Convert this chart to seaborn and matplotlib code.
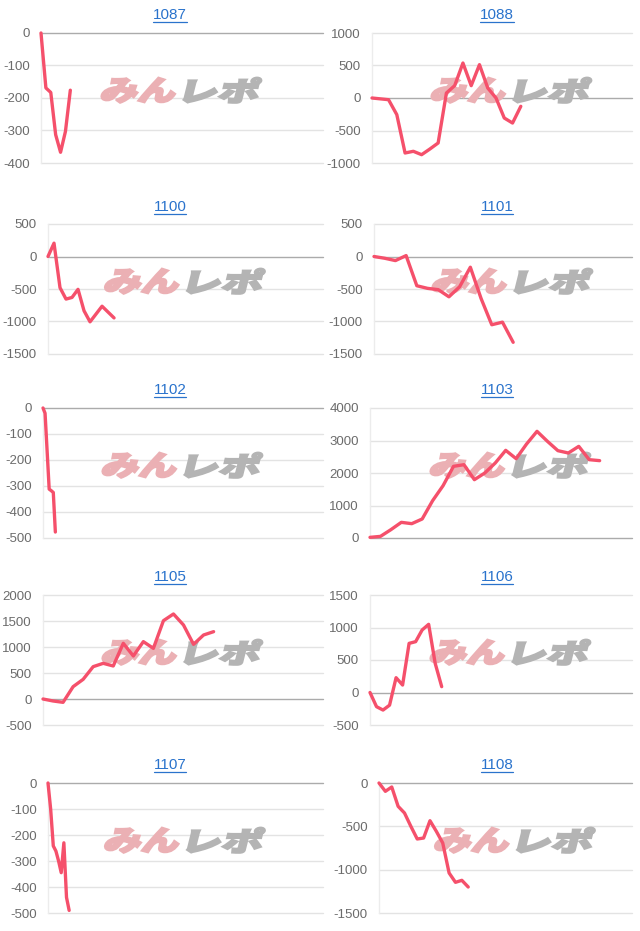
import numpy as np
import pandas as pd
import matplotlib
matplotlib.use("Agg")
import matplotlib.pyplot as plt
import matplotlib.transforms as mtransforms
import seaborn as sns
from matplotlib.textpath import TextPath
from matplotlib.patches import PathPatch
from matplotlib.font_manager import FontProperties
from matplotlib.lines import Line2D

# machine numbers, in reading order (2 columns)
machines = ["1087", "1088", "1100", "1101", "1102", "1103", "1105", "1106", "1107", "1108"]

# cumulative difference per machine
v1087 = [0, -169, -183, -313, -367, -303, -176]
v1088 = [0, -13, -26, -256, -846, -820, -872, -785, -692, 77, 190, 538, 190, 513, 154, 0, -308, -385, -128]
v1100 = [0, 205, -480, -655, -630, -505, -835, -1005, -885, -765, -855, -945]
v1101 = [0, -27, -63, 14, -450, -490, -510, -620, -465, -165, -645, -1050, -1010, -1320]
v1102 = [0, -20, -165, -312, -318, -325, -477]
v1103 = [20, 50, 256, 482, 441, 585, 1149, 1610, 2205, 2256, 1795, 2000, 2308, 2697, 2441,
         2892, 3282, 2974, 2687, 2615, 2820, 2410, 2380]
v1105 = [0, -38, -64, 237, 378, 622, 686, 635, 1071, 827, 1103, 974, 1506, 1635, 1423, 1051, 1231, 1295]
v1106 = [0, -218, -270, -195, 228, 115, 756, 782, 962, 1049, 449, 90]
v1107 = [0, -100, -242, -262, -300, -345, -230, -440, -490]
v1108 = [0, -96, -46, -269, -346, -500, -646, -635, -435, -558, -692, -1038, -1146, -1123, -1200]

series = dict(zip(machines, [v1087, v1088, v1100, v1101, v1102, v1103, v1105, v1106, v1107, v1108]))

# y axis: (min, max, step)
y_axes = {
    "1087": (-400, 0, 100), "1088": (-1000, 1000, 500),
    "1100": (-1500, 500, 500), "1101": (-1500, 500, 500),
    "1102": (-500, 0, 100), "1103": (0, 4000, 1000),
    "1105": (-500, 2000, 500), "1106": (-500, 1500, 500),
    "1107": (-500, 0, 100), "1108": (-1500, 0, 500),
}
# x axis extent (in data points)
x_span = {
    "1087": 57.7, "1088": 31.45, "1100": 45.8, "1101": 24.1, "1102": 136,
    "1103": 25.1, "1105": 27.9, "1106": 40.2, "1107": 104, "1108": 39.7,
}

# --- layout, in pixels ---
W, H = 640, 931
ROW_TOP = [33, 224, 408, 595, 783]
PLOT_H = 130
AX_LEFT = {"1087": 41, "1100": 48, "1102": 43, "1105": 43, "1107": 48,
           "1088": 372, "1101": 374, "1103": 370, "1106": 370, "1108": 379}
AX_RIGHT = [323, 632]
TITLE_X = [170, 497]
TITLE_Y = [15, 207, 390, 577, 765]

LINE = "#f5506b"
GRID = "#e3e3e3"
BASE = "#ababab"
TITLE_COL = "#2a73cc"

sns.set_theme(style="white")
plt.rcParams["font.family"] = ["Liberation Sans", "DejaVu Sans"]
plt.rcParams["axes.unicode_minus"] = False

logo_font = FontProperties(family="Noto Sans CJK JP", weight="black")


def add_logo(ax, dx):
    # watermark: "みん" pink + "レポ" grey, slanted
    parts = [("みん", "#ebb0b4", -79), ("レポ", "#b4b4b4", 4)]
    for txt, color, left in parts:
        tp = TextPath((0, 0), txt, size=1, prop=logo_font)
        ext = tp.get_extents()
        sx, sy = 73 / ext.width, 25 / ext.height
        tr = (mtransforms.Affine2D()
              .translate(-ext.x0, -ext.y0 - ext.height / 2)
              .scale(sx, sy)
              .skew_deg(14, 0)
              .translate(left + dx, 0)
              + mtransforms.ScaledTranslation(0.5, 0.56, ax.transAxes))
        ax.add_patch(PathPatch(tp, transform=tr, facecolor=color, edgecolor=color,
                               lw=1.6, joinstyle="miter", zorder=2, clip_on=False))


fig = plt.figure(figsize=(W / 100, H / 100), dpi=100)
titles = []

for k, name in enumerate(machines):
    row, col = divmod(k, 2)
    x0, x1 = AX_LEFT[name], AX_RIGHT[col]
    top = ROW_TOP[row]
    ax = fig.add_axes([x0 / W, 1 - (top + PLOT_H) / H, (x1 - x0) / W, PLOT_H / H])
    ax.set_facecolor("white")

    vals = series[name]
    df = pd.DataFrame({"n": np.arange(len(vals)), "diff": vals})
    sns.lineplot(data=df, x="n", y="diff", ax=ax, color=LINE, lw=2.4, zorder=5)
    for ln in ax.lines:
        ln.set_clip_on(False)
        ln.set_solid_joinstyle("round")

    lo, hi, step = y_axes[name]
    ticks = np.arange(lo, hi + step, step)
    ax.set_ylim(lo, hi)
    ax.set_yticks(ticks)
    ax.set_yticklabels([str(t) for t in ticks])
    ax.set_xlim(0, x_span[name])
    ax.set_xticks([])
    ax.set_xlabel("")
    ax.set_ylabel("")
    for t in ticks:
        ax.axhline(t, color=BASE if t == 0 else GRID, lw=1, zorder=1, clip_on=False)
    for s in ["top", "right", "bottom"]:
        ax.spines[s].set_visible(False)
    ax.spines["left"].set_color("#ececec")
    ax.spines["left"].set_linewidth(1)
    ax.tick_params(axis="y", length=0, pad=8, labelsize=9.5, labelcolor="#6b6b6b")

    add_logo(ax, 10 if col == 1 else 0)

    t = fig.text(TITLE_X[col] / W, 1 - TITLE_Y[row] / H, name, ha="center", va="center",
                 fontsize=11, color=TITLE_COL)
    titles.append(t)

# underline titles like links
fig.canvas.draw()
r = fig.canvas.get_renderer()
for t in titles:
    bb = t.get_window_extent(r)
    y = (bb.y0 + 0.5) / H
    fig.add_artist(Line2D([bb.x0 / W, bb.x1 / W], [y, y], transform=fig.transFigure,
                          color=TITLE_COL, lw=0.9))

fig.savefig("out.png", dpi=100)
